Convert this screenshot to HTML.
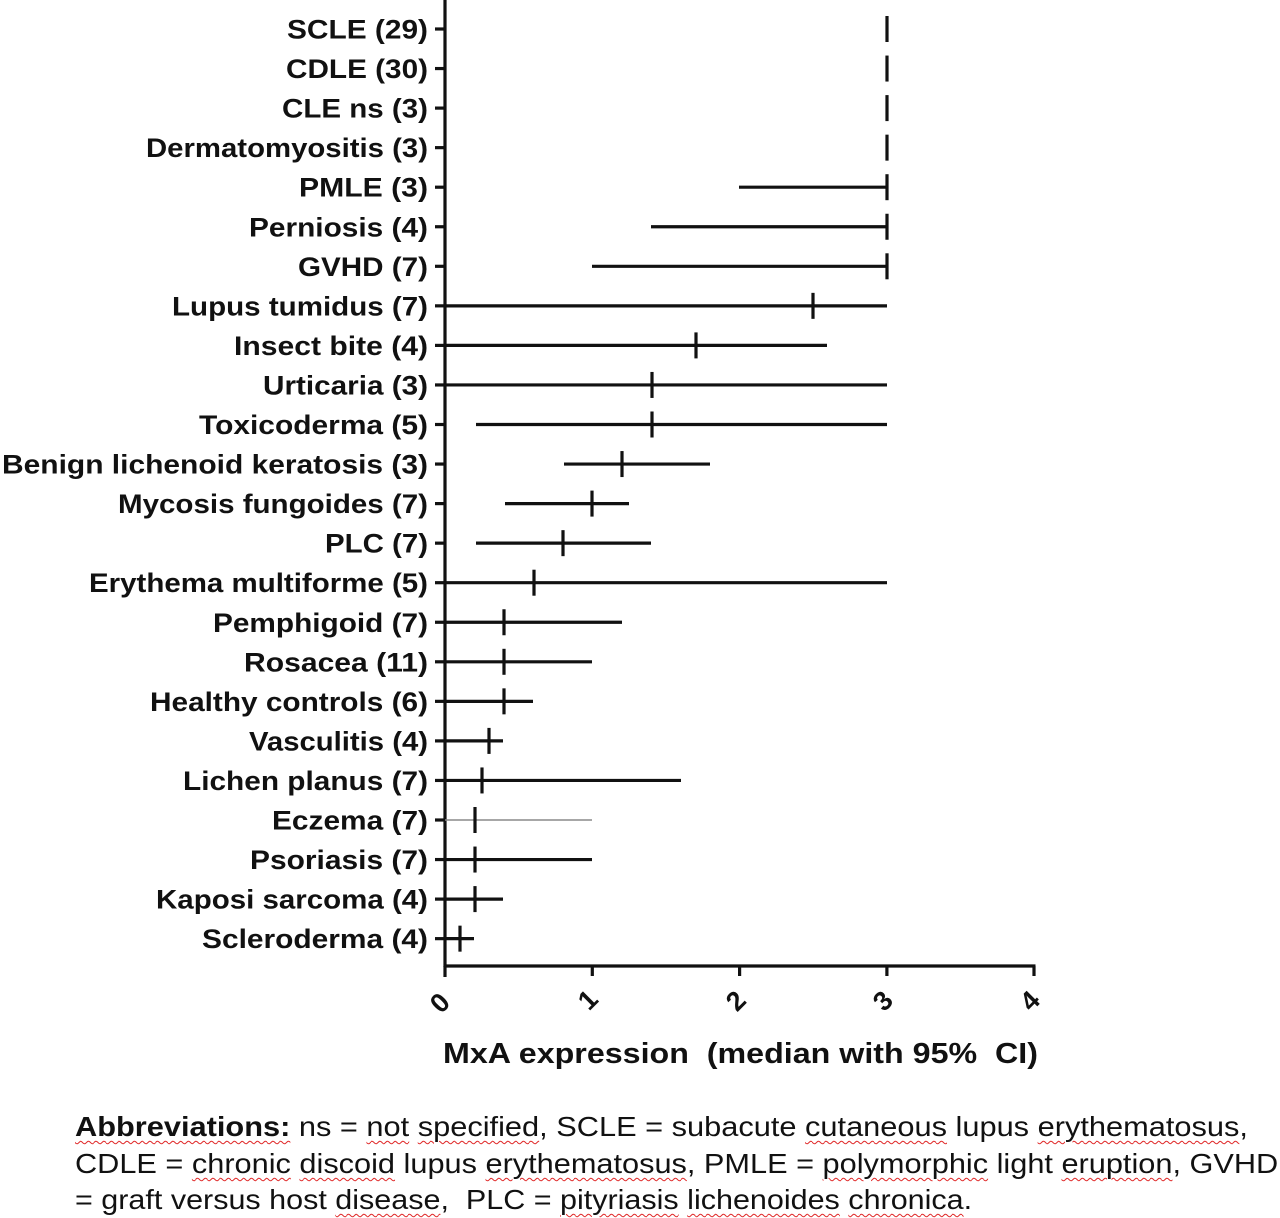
<!DOCTYPE html>
<html>
<head>
<meta charset="utf-8">
<style>
  html, body { margin:0; padding:0; background:#fff; }
  body { width:1280px; height:1218px; position:relative; overflow:hidden; }
  svg { position:absolute; left:0; top:0; }
  .lab { font-family:"Liberation Sans", Arial, sans-serif; font-weight:bold; font-size:27px; fill:#111; }
  .tk { font-family:"Liberation Sans", Arial, sans-serif; font-weight:bold; font-size:27px; fill:#111; }
  .ttl { font-family:"Liberation Sans", Arial, sans-serif; font-weight:bold; font-size:29px; fill:#111; }
  .foot { position:absolute; left:75px; font-family:"Liberation Sans", Arial, sans-serif; font-size:28px; line-height:28px; color:#111; white-space:nowrap; transform-origin:0 0; }
  .w { text-decoration-line:underline; text-decoration-style:wavy; text-decoration-color:#e02828; text-decoration-thickness:1px; text-underline-offset:4px; }
</style>
</head>
<body>
<svg width="1280" height="1218" viewBox="0 0 1280 1218" xmlns="http://www.w3.org/2000/svg">
  <g stroke="#111" stroke-width="3.2" fill="none">
    <!-- axes -->
    <line x1="445" y1="0" x2="445" y2="967"/>
    <line x1="443.5" y1="966" x2="1035.5" y2="966"/>
    <!-- x ticks -->
    <line x1="445" y1="966" x2="445" y2="977"/>
    <line x1="592.3" y1="966" x2="592.3" y2="976"/>
    <line x1="739.6" y1="966" x2="739.6" y2="976"/>
    <line x1="886.9" y1="966" x2="886.9" y2="976"/>
    <line x1="1034" y1="966" x2="1034" y2="976"/>
    <!-- y ticks -->
    <line x1="435" y1="29" x2="445" y2="29"/>
    <line x1="435" y1="68.55" x2="445" y2="68.55"/>
    <line x1="435" y1="108.1" x2="445" y2="108.1"/>
    <line x1="435" y1="147.65" x2="445" y2="147.65"/>
    <line x1="435" y1="187.2" x2="445" y2="187.2"/>
    <line x1="435" y1="226.75" x2="445" y2="226.75"/>
    <line x1="435" y1="266.3" x2="445" y2="266.3"/>
    <line x1="435" y1="305.85" x2="445" y2="305.85"/>
    <line x1="435" y1="345.4" x2="445" y2="345.4"/>
    <line x1="435" y1="384.95" x2="445" y2="384.95"/>
    <line x1="435" y1="424.5" x2="445" y2="424.5"/>
    <line x1="435" y1="464.05" x2="445" y2="464.05"/>
    <line x1="435" y1="503.6" x2="445" y2="503.6"/>
    <line x1="435" y1="543.15" x2="445" y2="543.15"/>
    <line x1="435" y1="582.7" x2="445" y2="582.7"/>
    <line x1="435" y1="622.25" x2="445" y2="622.25"/>
    <line x1="435" y1="661.8" x2="445" y2="661.8"/>
    <line x1="435" y1="701.35" x2="445" y2="701.35"/>
    <line x1="435" y1="740.9" x2="445" y2="740.9"/>
    <line x1="435" y1="780.45" x2="445" y2="780.45"/>
    <line x1="435" y1="820" x2="445" y2="820"/>
    <line x1="435" y1="859.55" x2="445" y2="859.55"/>
    <line x1="435" y1="899.1" x2="445" y2="899.1"/>
    <line x1="435" y1="938.65" x2="445" y2="938.65"/>

    <!-- CI lines -->
    <line x1="739" y1="187.2" x2="887" y2="187.2"/>
    <line x1="651" y1="226.75" x2="887" y2="226.75"/>
    <line x1="592" y1="266.3" x2="887" y2="266.3"/>
    <line x1="445" y1="305.85" x2="887" y2="305.85"/>
    <line x1="445" y1="345.4" x2="827" y2="345.4"/>
    <line x1="445" y1="384.95" x2="887" y2="384.95"/>
    <line x1="476" y1="424.5" x2="887" y2="424.5"/>
    <line x1="564" y1="464.05" x2="710" y2="464.05"/>
    <line x1="505" y1="503.6" x2="629" y2="503.6"/>
    <line x1="476" y1="543.15" x2="651" y2="543.15"/>
    <line x1="445" y1="582.7" x2="887" y2="582.7"/>
    <line x1="445" y1="622.25" x2="622" y2="622.25"/>
    <line x1="445" y1="661.8" x2="592" y2="661.8"/>
    <line x1="445" y1="701.35" x2="533" y2="701.35"/>
    <line x1="445" y1="740.9" x2="503" y2="740.9"/>
    <line x1="445" y1="780.45" x2="681" y2="780.45"/>
    <line x1="445" y1="820" x2="592" y2="820" stroke="#8a8a8a" stroke-width="1.6"/>
    <line x1="445" y1="859.55" x2="592" y2="859.55"/>
    <line x1="445" y1="899.1" x2="503" y2="899.1"/>
    <line x1="445" y1="938.65" x2="474" y2="938.65"/>

    <!-- median ticks -->
    <line x1="887" y1="16" x2="887" y2="42"/>
    <line x1="887" y1="55.55" x2="887" y2="81.55"/>
    <line x1="887" y1="95.1" x2="887" y2="121.1"/>
    <line x1="887" y1="134.65" x2="887" y2="160.65"/>
    <line x1="887" y1="174.2" x2="887" y2="200.2"/>
    <line x1="887" y1="213.75" x2="887" y2="239.75"/>
    <line x1="887" y1="253.3" x2="887" y2="279.3"/>
    <line x1="813" y1="292.85" x2="813" y2="318.85"/>
    <line x1="696" y1="332.4" x2="696" y2="358.4"/>
    <line x1="652" y1="371.95" x2="652" y2="397.95"/>
    <line x1="652" y1="411.5" x2="652" y2="437.5"/>
    <line x1="622" y1="451.05" x2="622" y2="477.05"/>
    <line x1="592" y1="490.6" x2="592" y2="516.6"/>
    <line x1="563" y1="530.15" x2="563" y2="556.15"/>
    <line x1="534" y1="569.7" x2="534" y2="595.7"/>
    <line x1="504" y1="609.25" x2="504" y2="635.25"/>
    <line x1="504" y1="648.8" x2="504" y2="674.8"/>
    <line x1="504" y1="688.35" x2="504" y2="714.35"/>
    <line x1="489" y1="727.9" x2="489" y2="753.9"/>
    <line x1="482" y1="767.45" x2="482" y2="793.45"/>
    <line x1="475" y1="807" x2="475" y2="833"/>
    <line x1="475" y1="846.55" x2="475" y2="872.55"/>
    <line x1="475" y1="886.1" x2="475" y2="912.1"/>
    <line x1="460" y1="925.65" x2="460" y2="951.65"/>
  </g>

  <!-- category labels -->
  <g class="lab">
    <text x="287" y="38.5" textLength="141" lengthAdjust="spacingAndGlyphs">SCLE (29)</text>
    <text x="286" y="78.05" textLength="142" lengthAdjust="spacingAndGlyphs">CDLE (30)</text>
    <text x="282" y="117.6" textLength="146" lengthAdjust="spacingAndGlyphs">CLE ns (3)</text>
    <text x="146" y="157.15" textLength="282" lengthAdjust="spacingAndGlyphs">Dermatomyositis (3)</text>
    <text x="299" y="196.7" textLength="129" lengthAdjust="spacingAndGlyphs">PMLE (3)</text>
    <text x="249" y="236.25" textLength="179" lengthAdjust="spacingAndGlyphs">Perniosis (4)</text>
    <text x="298" y="275.8" textLength="130" lengthAdjust="spacingAndGlyphs">GVHD (7)</text>
    <text x="172" y="315.35" textLength="256" lengthAdjust="spacingAndGlyphs">Lupus tumidus (7)</text>
    <text x="234" y="354.9" textLength="194" lengthAdjust="spacingAndGlyphs">Insect bite (4)</text>
    <text x="263" y="394.45" textLength="165" lengthAdjust="spacingAndGlyphs">Urticaria (3)</text>
    <text x="199" y="434" textLength="229" lengthAdjust="spacingAndGlyphs">Toxicoderma (5)</text>
    <text x="2" y="473.55" textLength="426" lengthAdjust="spacingAndGlyphs">Benign lichenoid keratosis (3)</text>
    <text x="118" y="513.1" textLength="310" lengthAdjust="spacingAndGlyphs">Mycosis fungoides (7)</text>
    <text x="325" y="552.65" textLength="103" lengthAdjust="spacingAndGlyphs">PLC (7)</text>
    <text x="89" y="592.2" textLength="339" lengthAdjust="spacingAndGlyphs">Erythema multiforme (5)</text>
    <text x="213" y="631.75" textLength="215" lengthAdjust="spacingAndGlyphs">Pemphigoid (7)</text>
    <text x="244" y="671.3" textLength="184" lengthAdjust="spacingAndGlyphs">Rosacea (11)</text>
    <text x="150" y="710.85" textLength="278" lengthAdjust="spacingAndGlyphs">Healthy controls (6)</text>
    <text x="249" y="750.4" textLength="179" lengthAdjust="spacingAndGlyphs">Vasculitis (4)</text>
    <text x="183" y="789.95" textLength="245" lengthAdjust="spacingAndGlyphs">Lichen planus (7)</text>
    <text x="272" y="829.5" textLength="156" lengthAdjust="spacingAndGlyphs">Eczema (7)</text>
    <text x="250" y="869.05" textLength="178" lengthAdjust="spacingAndGlyphs">Psoriasis (7)</text>
    <text x="156" y="908.6" textLength="272" lengthAdjust="spacingAndGlyphs">Kaposi sarcoma (4)</text>
    <text x="202" y="948.15" textLength="226" lengthAdjust="spacingAndGlyphs">Scleroderma (4)</text>
  </g>

  <!-- x tick labels -->
  <g class="tk" text-anchor="middle" dominant-baseline="central">
    <text transform="translate(440,1003) rotate(-45)">0</text>
    <text transform="translate(588,1000) rotate(-45)">1</text>
    <text transform="translate(736,1001) rotate(-45)">2</text>
    <text transform="translate(883,1001) rotate(-45)">3</text>
    <text transform="translate(1030,1001) rotate(-45)">4</text>
  </g>

  <!-- axis title -->
  <text class="ttl" x="443" y="1063" textLength="595" lengthAdjust="spacingAndGlyphs" xml:space="preserve">MxA expression  (median with 95%  CI)</text>
</svg>

<div class="foot" style="top:1113px; transform:scaleX(1.0985);"><b class="w">Abbreviations:</b> ns = <span class="w">not</span> <span class="w">specified</span>, SCLE = subacute <span class="w">cutaneous</span> lupus <span class="w">erythematosus</span>,</div>
<div class="foot" style="top:1150px; transform:scaleX(1.0966);">CDLE = <span class="w">chronic</span> <span class="w">discoid</span> lupus <span class="w">erythematosus</span>, PMLE = <span class="w">polymorphic</span> light <span class="w">eruption</span>, GVHD</div>
<div class="foot" style="top:1186px; transform:scaleX(1.0896);">= graft versus host <span class="w">disease</span>,&nbsp; PLC = <span class="w">pityriasis</span> <span class="w">lichenoides</span> <span class="w">chronica</span>.</div>
</body>
</html>
